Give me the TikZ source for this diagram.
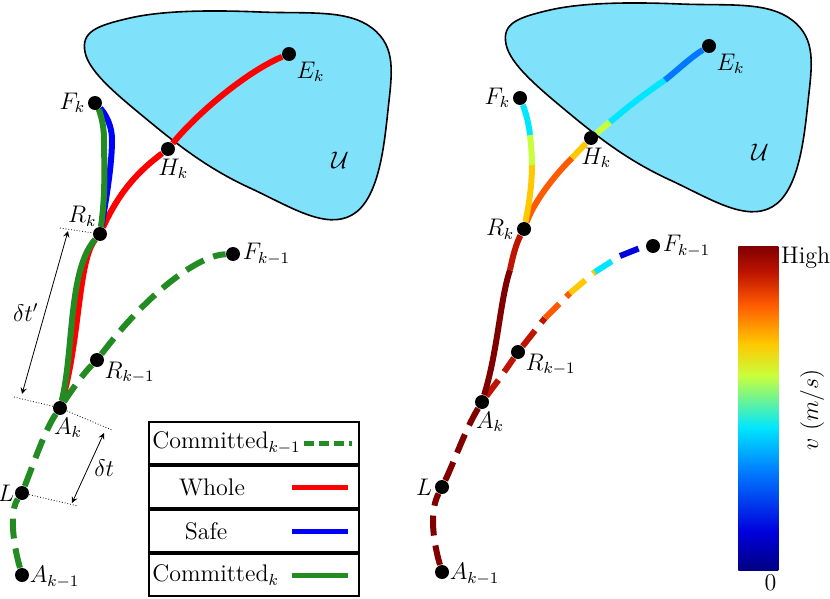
\documentclass[tikz,border=0pt]{standalone}
\usepackage{amsmath,amssymb}
\usepackage{tikz}
\pgfdeclarelayer{bg}
\pgfdeclarelayer{back}
\pgfsetlayers{back,bg,main}
\definecolor{blobc}{RGB}{128,226,250}
\definecolor{comm}{RGB}{34,139,34}
\definecolor{jA}{RGB}{128,0,0}
\definecolor{jB}{RGB}{190,20,0}
\definecolor{jC}{RGB}{255,90,0}
\definecolor{jD}{RGB}{255,200,0}
\definecolor{jE}{RGB}{200,255,60}
\definecolor{jF}{RGB}{0,230,255}
\definecolor{jG}{RGB}{0,120,255}
\definecolor{jH}{RGB}{0,0,220}
\definecolor{jI}{RGB}{0,0,130}
\pgfdeclareverticalshading{jet}{100bp}{color(0bp)=(jI); color(25bp)=(jI); color(31bp)=(jH); color(40bp)=(jG); color(47bp)=(jF); color(55bp)=(jE); color(60bp)=(jD); color(66bp)=(jC); color(71bp)=(jB); color(75bp)=(jA); color(100bp)=(jA)}
\tikzset{
    pt/.style={circle, fill=black, inner sep=0mm, minimum size=7pt},
    lab/.style={inner sep=1pt, font=\large},
    traj/.style={line width=3pt},
    dsh/.style={line width=3pt, dash pattern=on 10pt off 5pt},
    guide/.style={densely dotted, thin},
    legrow/.style={draw, line width=1pt, minimum width=105pt, minimum height=21pt, anchor=north west}
}

\begin{document}
\begin{tikzpicture}[x=0.5pt, y=-0.5pt]
    \useasboundingbox (0,0) rectangle (830,599);

    % left panel
    \begin{pgfonlayer}{back}
        \fill[blobc, draw=black, thick] plot[smooth cycle, tension=0.7] coordinates
            {(85,52) (130,18) (260,12) (372,28) (388,110) (352,215) (250,188) (150,122)};
        \fill[blobc, draw=black, thick] plot[smooth cycle, tension=0.7] coordinates
            {(506,44) (550,10) (680,4) (792,20) (808,102) (772,207) (670,180) (570,114)};
    \end{pgfonlayer}
    \node[lab] at (340,160) {$\mathcal{U}$};

    \node[pt] (Ek) at (289,54) {};
    \node[pt] (Hk) at (168,149) {};
    \node[pt] (Fk) at (95,103) {};
    \node[pt] (Rk) at (100,234) {};
    \node[pt] (Fk1) at (233,254) {};
    \node[pt] (Rk1) at (97,360) {};
    \node[pt] (Ak) at (60,408) {};
    \node[pt] (L) at (22,493) {};
    \node[pt] (Ak1) at (22,575) {};

    \node[lab, anchor=north west] at (Ek.south east) {$E_k$};
    \node[lab, anchor=north west] at ([xshift=-6pt]Hk.south) {$H_k$};
    \node[lab, anchor=east] at (Fk.west) {$F_k$};
    \node[lab, anchor=south east] at ([xshift=2pt]Rk.north west) {$R_k$};
    \node[lab, anchor=west] at (Fk1.east) {$F_{k-1}$};
    \node[lab, anchor=north west] at ([yshift=3pt]Rk1.south east) {$R_{k-1}$};
    \node[lab, anchor=north] at ([xshift=4pt]Ak.south) {$A_k$};
    \node[lab, anchor=east, inner sep=0pt] at (L.west) {$L$};
    \node[lab, anchor=west, inner sep=0pt] at ([yshift=-1pt]Ak1.east) {$A_{k-1}$};

    \begin{pgfonlayer}{bg}
        \draw[traj, red] (Ak) .. controls (80,340) and (78,260) .. (Rk)
            .. controls (120,190) and (140,170) .. (Hk)
            .. controls (200,110) and (250,70) .. (Ek);
        \draw[traj, blue] (Rk) .. controls (108,190) and (112,160) .. (112,140)
            .. controls (112,120) and (100,108) .. (Fk);
        \draw[traj, comm] (Ak) .. controls (74,350) and (68,270) .. (Rk)
            .. controls (106,190) and (104,160) .. (104,140)
            .. controls (104,120) and (98,108) .. (Fk);
        \draw[dsh, comm] (Ak1) .. controls (12,540) and (10,510) .. (L)
            .. controls (35,460) and (45,430) .. (Ak)
            .. controls (75,385) and (85,372) .. (Rk1)
            .. controls (150,290) and (200,255) .. (Fk1);
    \end{pgfonlayer}

    % time spans
    \coordinate (t1) at (60,228);
    \coordinate (t2) at (14,397);
    \coordinate (t3) at (112,430);
    \coordinate (t4) at (78,506);
    \draw[guide] (t1) -- (Rk);
    \draw[guide] (t2) -- (Ak) -- (t3);
    \draw[guide] (L) -- (t4);
    \draw[<->, >=stealth] ([shift={(8,3)}]t1) -- node[lab, left=2pt] {$\delta t'$} ([shift={(8,-3)}]t2);
    \draw[<->, >=stealth] ([shift={(-8,3)}]t3) -- node[lab, right=2pt] {$\delta t$} ([shift={(-6,-3)}]t4);

    % legend
    \node[legrow] (lg1) at (148,421) {};
    \node[legrow, anchor=north west] (lg2) at (lg1.south west) {};
    \node[legrow, anchor=north west] (lg3) at (lg2.south west) {};
    \node[legrow, anchor=north west] (lg4) at (lg3.south west) {};
    \node[lab, anchor=west, inner sep=0pt] at ([xshift=2pt]lg1.west) {Committed$_{k-1}$};
    \node[lab] at ([xshift=-21pt]lg2.center) {Whole};
    \node[lab] at ([xshift=-24pt]lg3.center) {Safe};
    \node[lab, anchor=west, inner sep=2pt] at ([xshift=0pt]lg4.west) {Committed$_k$};
    \draw[comm, line width=2.5pt, dash pattern=on 5pt off 2.5pt] ([xshift=-28pt]lg1.east) -- ([xshift=-4pt]lg1.east);
    \draw[red, line width=2.5pt] ([xshift=-34pt]lg2.east) -- ([xshift=-6pt]lg2.east);
    \draw[blue, line width=2.5pt] ([xshift=-34pt]lg3.east) -- ([xshift=-6pt]lg3.east);
    \draw[comm, line width=2.5pt] ([xshift=-34pt]lg4.east) -- ([xshift=-6pt]lg4.east);

    % right panel
    \node[lab] at (760,152) {$\mathcal{U}$};

    \node[pt] (Ek') at (709,46) {};
    \node[pt] (Hk') at (591,138) {};
    \node[pt] (Fk') at (520,98) {};
    \node[pt] (Rk') at (524,229) {};
    \node[pt] (Fk1') at (653,246) {};
    \node[pt] (Rk1') at (518,352) {};
    \node[pt] (Ak') at (482,402) {};
    \node[pt] (L') at (442,487) {};
    \node[pt] (Ak1') at (442,572) {};

    \node[lab, anchor=north west] at (Ek'.south east) {$E_k$};
    \node[lab, anchor=north west] at ([xshift=-6pt]Hk'.south) {$H_k$};
    \node[lab, anchor=east] at (Fk'.west) {$F_k$};
    \node[lab, anchor=east] at (Rk'.west) {$R_k$};
    \node[lab, anchor=west] at (Fk1'.east) {$F_{k-1}$};
    \node[lab, anchor=north west] at ([yshift=3pt]Rk1'.south east) {$R_{k-1}$};
    \node[lab, anchor=north] at ([xshift=4pt]Ak'.south) {$A_k$};
    \node[lab, anchor=east] at (L'.west) {$L$};
    \node[lab, anchor=west, inner sep=0pt] at ([yshift=-1pt]Ak1'.east) {$A_{k-1}$};

    \begin{pgfonlayer}{bg}
        \draw[dsh, jA] (Ak1') .. controls (432,537) and (430,510) .. (L')
            .. controls (455,460) and (465,430) .. (Ak');
        \foreach \a/\b in {500/378, 545/318, 570/293, 595/272, 620/256, 640/248}
            \coordinate (s\a) at (\a,\b);
        \draw[dsh, jB] (Ak') -- (s500) -- (Rk1') -- (s545);
        \draw[dsh, jC] (s545) -- (s570);
        \draw[dsh, jD] (s570) -- (s595);
        \draw[dsh, jF] (s595) -- (s620);
        \draw[dsh, jH] (s620) -- (s640) -- (Fk1');
        \draw[traj, jA] (Ak') .. controls (498,350) and (500,300) .. (510,270);
        \draw[traj, jB] (510,270) .. controls (514,250) and (518,240) .. (Rk');
        \draw[traj, jC] (Rk') .. controls (535,200) and (555,175) .. (572,158);
        \draw[traj, jD] (572,158) -- (Hk');
        \draw[traj, jE] (Hk') -- (610,122);
        \draw[traj, jF] (610,122) .. controls (630,105) and (650,90) .. (665,80);
        \draw[traj, jG] (665,80) .. controls (680,68) and (690,58) .. (Ek');
        \draw[traj, jD] (Rk') .. controls (530,200) and (532,180) .. (532,165);
        \draw[traj, jE] (532,165) .. controls (532,155) and (531,145) .. (530,135);
        \draw[traj, jF] (530,135) .. controls (528,118) and (524,108) .. (Fk');
    \end{pgfonlayer}

    % colour bar
    \node[draw=none, minimum width=20pt, minimum height=162pt, inner sep=0pt, anchor=north west,
          shading=jet] (cb) at (738,246) {};
    \node[lab, anchor=north, inner sep=2pt] at ([xshift=6pt]cb.south) {$0$};
    \node[lab, anchor=west, inner sep=1pt] at ([yshift=-6pt]cb.north east) {High};
    \node[lab, rotate=90] at (812,410) {$v~(m/s)$};
\end{tikzpicture}
\end{document}
